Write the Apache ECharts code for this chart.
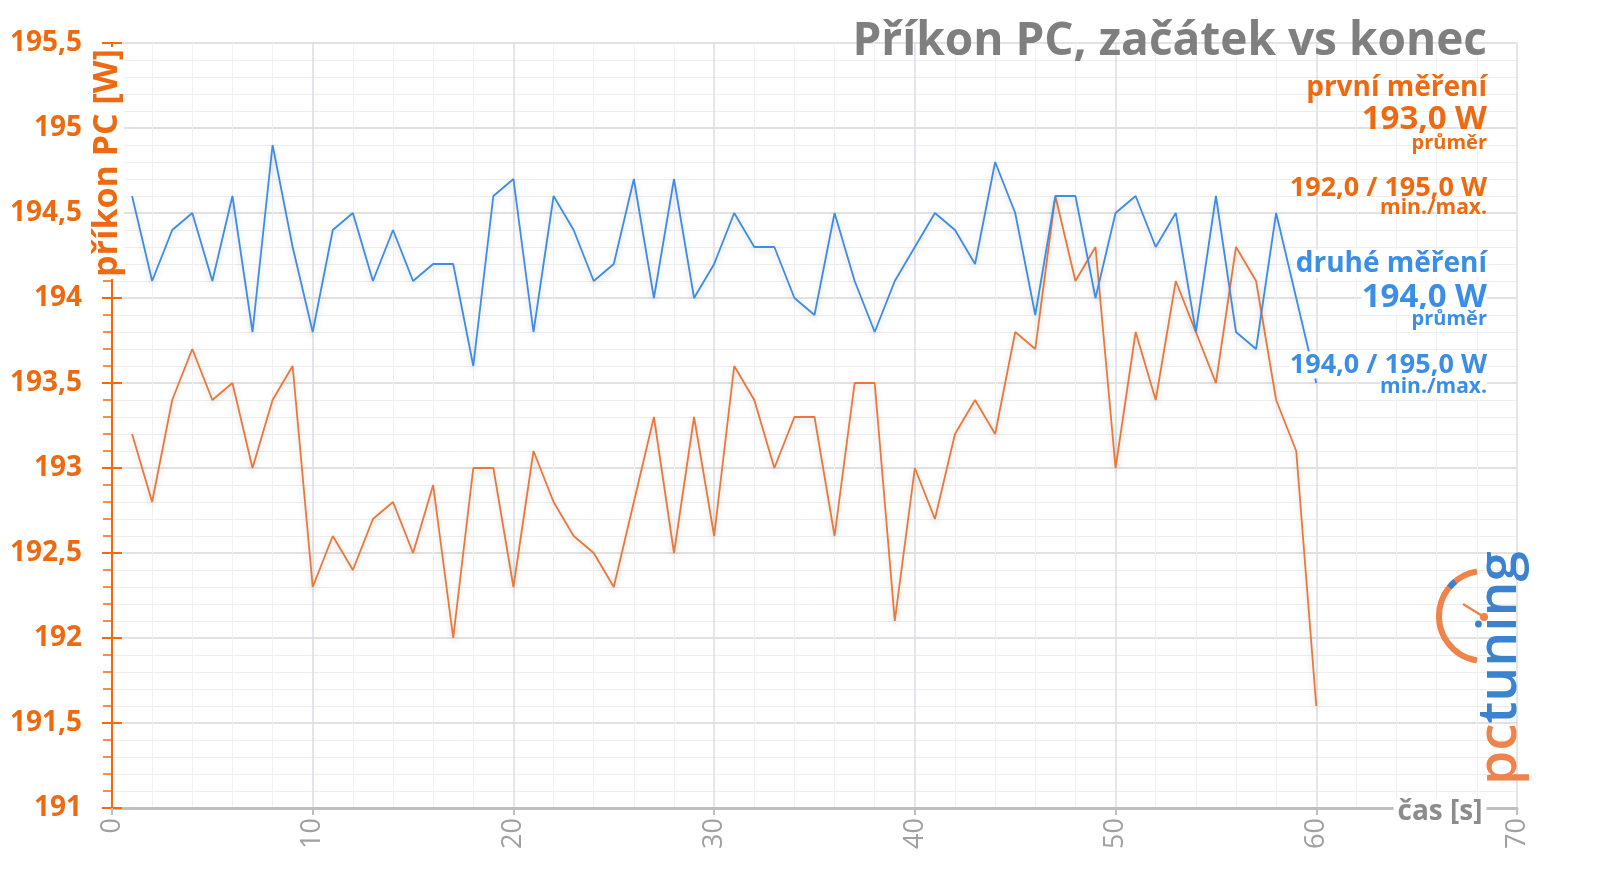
<!DOCTYPE html>
<html>
<head>
<meta charset="utf-8">
<script src="https://cdn.jsdelivr.net/npm/echarts@6/dist/echarts.min.js"></script>
<style>
html,body{margin:0;padding:0;background:#fff;}
#c{width:1600px;height:881px;}
</style>
</head>
<body>
<div id="c"></div>
<script>
// ---- data ----
const timeSec = [1,2,3,4,5,6,7,8,9,10,11,12,13,14,15,16,17,18,19,20,21,22,23,24,25,26,27,28,29,30,
                 31,32,33,34,35,36,37,38,39,40,41,42,43,44,45,46,47,48,49,50,51,52,53,54,55,56,57,58,59,60];
const prvniMereni = [193.2,192.8,193.4,193.7,193.4,193.5,193.0,193.4,193.6,192.3,
                     192.6,192.4,192.7,192.8,192.5,192.9,192.0,193.0,193.0,192.3,
                     193.1,192.8,192.6,192.5,192.3,192.8,193.3,192.5,193.3,192.6,
                     193.6,193.4,193.0,193.3,193.3,192.6,193.5,193.5,192.1,193.0,
                     192.7,193.2,193.4,193.2,193.8,193.7,194.6,194.1,194.3,193.0,
                     193.8,193.4,194.1,193.8,193.5,194.3,194.1,193.4,193.1,191.6];
const druheMereni = [194.6,194.1,194.4,194.5,194.1,194.6,193.8,194.9,194.3,193.8,
                     194.4,194.5,194.1,194.4,194.1,194.2,194.2,193.6,194.6,194.7,
                     193.8,194.6,194.4,194.1,194.2,194.7,194.0,194.7,194.0,194.2,
                     194.5,194.3,194.3,194.0,193.9,194.5,194.1,193.8,194.1,194.3,
                     194.5,194.4,194.2,194.8,194.5,193.9,194.6,194.6,194.0,194.5,
                     194.6,194.3,194.5,193.8,194.6,193.8,193.7,194.5,194.0,193.5];
const yMin = 191, yMax = 195.5, yStep = 0.5;
const xMin = 0, xMax = 70, xStep = 10;
const titleText = 'Příkon PC, začátek vs konec';
const yName = 'příkon PC [W]';
const xName = 'čas [s]';
const legend1 = ['první měření', '193,0 W', 'průměr', '192,0 / 195,0 W', 'min./max.'];
const legend2 = ['druhé měření', '194,0 W', 'průměr', '194,0 / 195,0 W', 'min./max.'];

// ---- styles ----
const ORANGE_TXT = '#EE6A10';
const ORANGE_LINE = '#E9793A';
const BLUE_TXT = '#3A8EE6';
const BLUE_LINE = '#3D8DE4';
const GRAY = '#7F7F7F';
const FONT = '"Open Sans", "DejaVu Sans", sans-serif';

const chart = echarts.init(document.getElementById('c'));

function pairs(xs, ys){ return xs.map((x,i)=>[x, ys[i]]); }
const comma = v => String(v).replace('.', ',');

function legendBlock(lines, color, ys, sizes, bg){
  return lines.map((t,i)=>({
    type:'text', z:100, x:1487, y:ys[i],
    style:{text:t, fill:color, font:'bold '+sizes[i]+'px '+FONT, textAlign:'right', textVerticalAlign:'middle',
           backgroundColor: bg ? '#fff' : null}
  }));
}
const sizes = [28,33,20,27,21];

const option = {
  animation:false,
  backgroundColor:'#fff',
  grid:{left:112, right:83, top:43, bottom:73, containLabel:false},
  xAxis:{
    type:'value', min:xMin, max:xMax, interval:xStep,
    axisLine:{show:true, lineStyle:{color:'#BFBFBF', width:3}},
    axisTick:{show:true, length:7, lineStyle:{color:'#BFBFBF', width:2}},
    axisLabel:{color:'#A0A0A0', fontSize:27, fontFamily:FONT, rotate:90, margin:10},
    splitLine:{show:true, lineStyle:{color:'#DCDCE6', width:1.5}},
    minorTick:{show:false, splitNumber:5},
    minorSplitLine:{show:true, lineStyle:{color:'#F1F1F5', width:1}}
  },
  yAxis:[{
    type:'value', min:yMin, max:yMax, interval:yStep,
    axisLine:{show:true, lineStyle:{color:'#F26A0C', width:2}},
    axisTick:{show:true, length:10, lineStyle:{color:'#F26A0C', width:2}},
    minorTick:{show:true, splitNumber:5, length:9, lineStyle:{color:'#F26A0C', width:1.5}},
    axisLabel:{color:ORANGE_TXT, fontSize:28, fontWeight:'bold', fontFamily:FONT, margin:30, formatter:comma},
    splitLine:{show:true, lineStyle:{color:'#D9D9D9', width:1.5}},
    minorSplitLine:{show:true, lineStyle:{color:'#EEEEEE', width:1}}
  },{
    type:'value', min:yMin, max:yMax, interval:yStep, position:'left', offset:0,
    axisLine:{show:false},
    axisTick:{show:true, inside:true, length:10, lineStyle:{color:'#F26A0C', width:2}},
    axisLabel:{show:false}, splitLine:{show:false}
  }],
  series:[{
    name:legend1[0], type:'line', data:pairs(timeSec, prvniMereni), showSymbol:false, symbol:'none',
    lineStyle:{color:ORANGE_LINE, width:1.8, shadowColor:'rgba(0,0,0,0.18)', shadowBlur:6, shadowOffsetY:3},
    z:3
  },{
    name:legend2[0], type:'line', data:pairs(timeSec, druheMereni), showSymbol:false, symbol:'none',
    lineStyle:{color:BLUE_LINE, width:1.8, shadowColor:'rgba(0,0,0,0.18)', shadowBlur:6, shadowOffsetY:3},
    z:4
  }],
  graphic:[
    {type:'text', z:100, x:1487, y:42, style:{text:titleText, fill:GRAY, font:'bold 46px '+FONT, textAlign:'right', textVerticalAlign:'middle'}},
    ...legendBlock(legend1, ORANGE_TXT, [88,120,143,188,208], sizes, false),
    ...legendBlock(legend2, BLUE_TXT, [264,298,319,365,387], sizes, true),
    {type:'text', z:100, x:107, y:163, rotation:Math.PI/2,
     style:{text:yName, fill:ORANGE_TXT, font:'bold 34px '+FONT, textAlign:'center', textVerticalAlign:'middle', backgroundColor:'#fff', padding:[0,2]}},
    {type:'text', z:100, x:1440, y:812,
     style:{text:xName, fill:'#8C8C8C', font:'bold 28px '+FONT, textAlign:'center', textVerticalAlign:'middle', backgroundColor:'#fff', padding:[0,4]}},
    // logo
    {type:'text', z:90, x:1500, y:668, rotation:Math.PI/2,
     style:{text:'{o|pc}{b|tuning}', textAlign:'center', textVerticalAlign:'middle',
       rich:{o:{fill:'#F0834A', font:'600 55px '+FONT}, b:{fill:'#3B83D0', font:'600 55px '+FONT}}}},
    {type:'arc', z:90, shape:{cx:1484, cy:616, r:45, startAngle:Math.PI*0.55, endAngle:Math.PI*1.45, clockwise:true},
     style:{stroke:'#F0834A', lineWidth:6, fill:null}},
    {type:'arc', z:91, shape:{cx:1484, cy:616, r:45, startAngle:Math.PI*1.22, endAngle:Math.PI*1.28, clockwise:true},
     style:{stroke:'#3B83D0', lineWidth:6, fill:null}},
    {type:'line', z:91, shape:{x1:1484, y1:617, x2:1463, y2:604}, style:{stroke:'#F0834A', lineWidth:2.5}},
    {type:'circle', z:92, shape:{cx:1484, cy:617, r:4}, style:{fill:'#F0834A'}}
  ]
};
chart.setOption(option);
</script>
</body>
</html>
